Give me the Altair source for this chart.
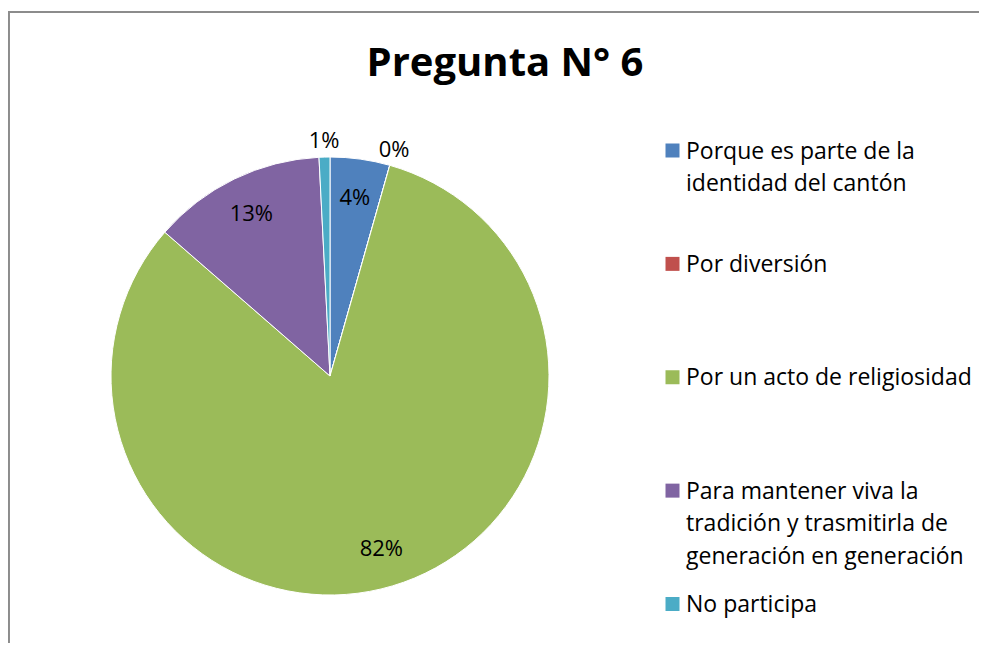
import altair as alt
import pandas as pd

categories = [
    "Porque es parte de la identidad del cantón",
    "Por diversión",
    "Por un acto de religiosidad",
    "Para mantener viva la tradición y trasmitirla de generación en generación",
    "No participa",
]
legend_labels = [
    "Porque es parte de la\nidentidad del cantón",
    "Por diversión",
    "Por un acto de religiosidad",
    "Para mantener viva la\ntradición y trasmitirla de\ngeneración en generación",
    "No participa",
]
values = [11, 0, 205, 32, 2]
colors = ["#4F81BD", "#C0504D", "#9BBB59", "#8064A2", "#4BACC6"]

df = pd.DataFrame({
    "cat": categories,
    "leg": legend_labels,
    "value": values,
    "idx": list(range(len(categories))),
})

FONT = "Open Sans"
CX, CY, R = 322, 268, 219
W, H = 971, 535

base = alt.Chart(df).transform_joinaggregate(total="sum(value)")

color = alt.Color("cat:N", scale=alt.Scale(domain=categories, range=colors), legend=None)

arcs = base.mark_arc(outerRadius=R, stroke="white", strokeWidth=1).encode(
    theta=alt.Theta("value:Q", stack=True),
    order=alt.Order("idx:Q"),
    color=color,
    x=alt.value(CX),
    y=alt.value(CY),
    tooltip=["cat:N", "value:Q"],
)

labels = base.transform_window(
    cum="sum(value)", sort=[alt.SortField("idx", order="ascending")],
    frame=[None, 0],
).transform_calculate(
    mid="(datum.cum - datum.value / 2) / datum.total * 2 * PI",
    lbl="format(round(datum.value / datum.total * 100), 'd') + '%'",
    lr="datum.value / datum.total * 100 < 2 ? 235 : 180",
).mark_text(font=FONT, fontSize=22, color="black").encode(
    theta=alt.Theta("mid:Q", scale=None, stack=None),
    radius=alt.Radius("lr:Q", scale=None),
    text="lbl:N",
    x=alt.value(CX),
    y=alt.value(CY),
)

ypos = alt.Y("cat:N", sort=categories, scale=alt.Scale(type="point", range=[42.5, 496], padding=0), axis=None)

leg_sym = base.mark_square(size=196, opacity=1, filled=True).encode(
    x=alt.value(664.5),
    y=ypos,
    color=color,
)

leg_txt = base.mark_text(
    font=FONT, fontSize=23, color="black", align="left", baseline="alphabetic",
    dy=8, lineBreak="\n", lineHeight=32.5,
).encode(
    x=alt.value(678),
    y=ypos,
    text="leg:N",
)

border_left = base.mark_rule(color="#8c8c8c", strokeWidth=1.5).encode(
    x=alt.value(0.75), y=alt.value(-96), y2=alt.value(H)
)
border_top = base.mark_rule(color="#8c8c8c", strokeWidth=1.5).encode(
    x=alt.value(0), x2=alt.value(W), y=alt.value(-96)
)

chart = alt.layer(border_left, border_top, arcs, labels, leg_sym, leg_txt).properties(
    width=W,
    height=H,
    autosize=alt.AutoSizeParams(type="none"),
    padding={"left": 0, "top": 100, "right": 0, "bottom": 0},
    title=alt.TitleParams(
        "Pregunta N° 6", font=FONT, fontSize=40, fontWeight="bold", color="black",
        anchor="middle", dx=11.5, baseline="alphabetic", offset=0, dy=105,
    ),
).configure_view(stroke=None)

chart.save("out.html", embed_options={"renderer": "svg", "actions": False})
